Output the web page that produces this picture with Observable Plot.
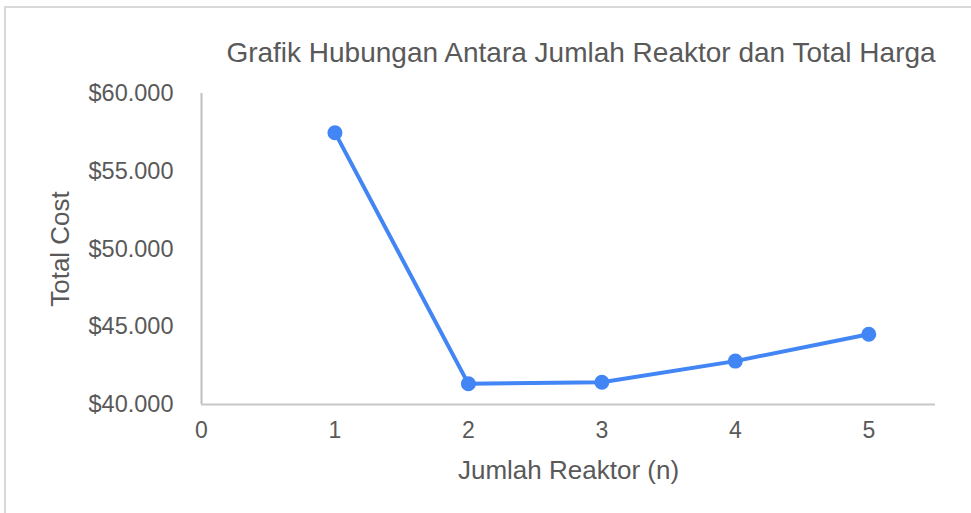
<!DOCTYPE html>
<html>
<head>
<meta charset="utf-8">
<script src="https://cdn.jsdelivr.net/npm/d3@7"></script>
<script src="https://cdn.jsdelivr.net/npm/@observablehq/plot@0.6"></script>
<style>
  html, body { margin: 0; padding: 0; background: #fff; }
  #wrap { position: relative; width: 971px; height: 513px; overflow: hidden; font-family: "Liberation Sans", Arial, sans-serif; }
  #frame { position: absolute; left: 4px; top: 6px; width: 1000px; height: 600px; border: 2px solid #d9d9d9; box-sizing: border-box; }
  #title { position: relative; height: 60px; z-index: 1; }
  #title span { position: absolute; left: 0; width: 1162px; text-align: center; top: 37px; font-size: 28px; line-height: 31px; color: #595959; white-space: nowrap; }
  #chart { position: relative; }
</style>
</head>
<body>
<div id="wrap">
  <div id="frame"></div>
  <div id="title"><span>Grafik Hubungan Antara Jumlah Reaktor dan Total Harga</span></div>
  <div id="chart"></div>
</div>
<script>
const reactors = [1, 2, 3, 4, 5];
const totalCost = [57480, 41330, 41430, 42790, 44520];
const xTicks = [0, 1, 2, 3, 4, 5];
const yTicks = [40000, 45000, 50000, 55000, 60000];
const titleText = "Grafik Hubungan Antara Jumlah Reaktor dan Total Harga";
const xLabel = "Jumlah Reaktor (n)";
const yLabel = "Total Cost";

const data = reactors.map((n, i) => ({n, cost: totalCost[i]}));
const fmt = d => "$" + d3.format(",")(d).replace(/,/g, ".");
const textColor = "#595959";
const blue = "#4285F4";

const chart = Plot.plot({
  width: 971,
  height: 453,
  marginTop: 33,
  marginBottom: 109,
  marginLeft: 201,
  marginRight: 36,
  style: {fontFamily: "'Liberation Sans', Arial, sans-serif", color: textColor, background: "transparent", overflow: "visible"},
  x: {domain: [0, 5.5]},
  y: {domain: [40000, 60000]},
  marks: [
    Plot.ruleX([0], {stroke: "#bfbfbf", strokeWidth: 2}),
    Plot.ruleY([40000], {stroke: "#c8c8c8", strokeWidth: 2}),
    Plot.axisX({ticks: xTicks, tickSize: 0, tickPadding: 17, fontSize: 23, label: null, tickFormat: d => String(d)}),
    Plot.axisY({ticks: yTicks, tickSize: 0, tickPadding: 28, fontSize: 23.5, label: null, tickFormat: fmt}),
    Plot.lineY(data, {x: "n", y: "cost", stroke: blue, strokeWidth: 4}),
    Plot.dot(data, {x: "n", y: "cost", r: 7.5, fill: blue}),
    Plot.text([yLabel], {frameAnchor: "left", dx: -141, rotate: -90, fontSize: 26, fill: textColor, textAnchor: "middle", lineAnchor: "middle"}),
    Plot.text([xLabel], {frameAnchor: "bottom", dy: 66, fontSize: 26, fill: textColor, lineAnchor: "middle"})
  ]
});
document.getElementById("chart").appendChild(chart);
</script>
</body>
</html>
